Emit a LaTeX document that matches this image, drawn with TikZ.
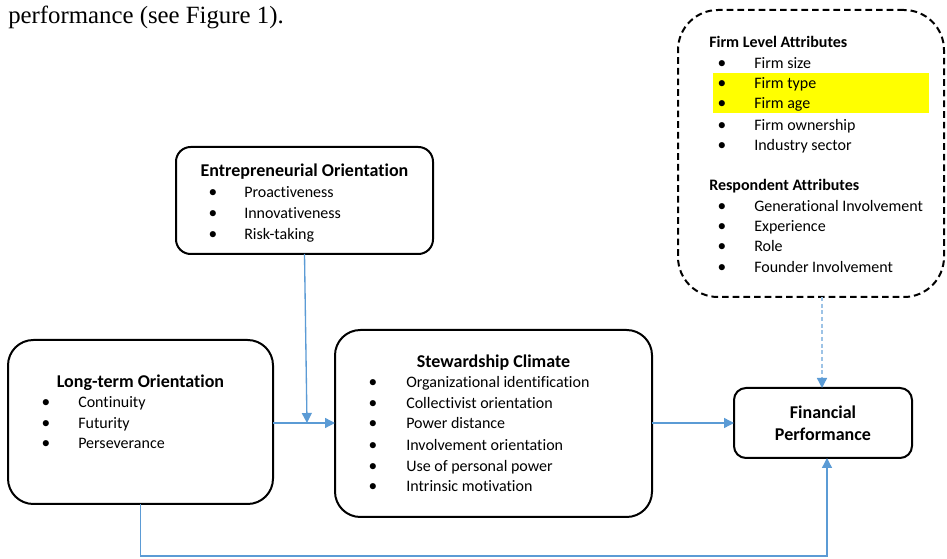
\documentclass[tikz,border=0pt]{standalone}
\usepackage{fontspec}
\setmainfont{Carlito}[RawFeature=-liga]
\newfontfamily\serifface{Liberation Serif}
\usetikzlibrary{arrows.meta}
\definecolor{linkblue}{HTML}{5B9BD5}
\definecolor{lightblue}{HTML}{9DC3E6}
\definecolor{hiyellow}{HTML}{FFFF00}
\tikzset{
  box/.style={draw=black, line width=1.5pt, rectangle, inner sep=0pt, outer sep=0pt},
  ttl/.style={font=\fontsize{13.5}{16}\selectfont\bfseries, inner sep=0pt, anchor=base},
  sttl/.style={font=\fontsize{12}{14}\selectfont\bfseries, inner sep=0pt, anchor=base west},
  itm/.style={font=\fontsize{12}{14}\selectfont, inner sep=0pt, anchor=base west},
  bul/.style={font=\fontsize{13}{14}\selectfont, inner sep=0pt, anchor=base},
  arr/.style={draw=linkblue, line width=1pt, -{Triangle[length=7.5pt,width=7.5pt]}},
  darr/.style={draw=lightblue, line width=1pt, dash pattern=on 3pt off 2pt,
    -{Triangle[length=7.5pt,width=7.5pt,color=linkblue]}}
}
\begin{document}
\begin{tikzpicture}[x=0.75pt,y=-0.75pt]
\useasboundingbox (0,0) rectangle (947,559);
\fill[white] (0,0) rectangle (947,559);

% top text
\node[inner sep=0pt, anchor=base west, font=\serifface\fontsize{18.6}{20}\selectfont] (cap) at (8,24) {performance (see Figure 1).};

% boxes
\node[box, rounded corners=11pt, minimum width=192.75pt, minimum height=80.25pt] (eo) at (304.5,200.5) {};
\node[box, rounded corners=19pt, minimum width=198.75pt, minimum height=123pt] (lto) at (140.5,422) {};
\node[box, rounded corners=19pt, minimum width=237.75pt, minimum height=140.25pt] (sc) at (493.5,423.5) {};
\node[box, rounded corners=9pt, minimum width=133.5pt, minimum height=52.5pt, align=center,
  font=\fontsize{13.5}{16.5}\selectfont\bfseries] (fp) at (823,423) {Financial\\Performance};
\node[box, dash pattern=on 5pt off 3pt, rounded corners=30pt, minimum width=199.5pt, minimum height=215.25pt] (ctrl) at (811,153.5) {};

% highlight
\fill[hiyellow] (713,73) rectangle (929,113);

% EO text
\node[ttl] (eot) at (304.5,177) {Entrepreneurial Orientation};
\node[bul] (eob1) at (213,198) {\textbullet}; \node[itm] (eoi1) at (244,198) {Proactiveness};
\node[bul] (eob2) at (213,219) {\textbullet}; \node[itm] (eoi2) at (244,219) {Innovativeness};
\node[bul] (eob3) at (213,240) {\textbullet}; \node[itm] (eoi3) at (244,240) {Risk-taking};

% LTO text
\node[ttl] (ltot) at (140.5,388) {Long-term Orientation};
\node[bul] (ltob1) at (46,408) {\textbullet}; \node[itm] (ltoi1) at (78,408) {Continuity};
\node[bul] (ltob2) at (46,429) {\textbullet}; \node[itm] (ltoi2) at (78,429) {Futurity};
\node[bul] (ltob3) at (46,449) {\textbullet}; \node[itm] (ltoi3) at (78,449) {Perseverance};

% SC text
\node[ttl] (sct) at (493.5,368) {Stewardship Climate};
\node[bul] (scb1) at (373,388) {\textbullet}; \node[itm] (sci1) at (406,388) {Organizational identification};
\node[bul] (scb2) at (373,409) {\textbullet}; \node[itm] (sci2) at (406,409) {Collectivist orientation};
\node[bul] (scb3) at (373,429) {\textbullet}; \node[itm] (sci3) at (406,429) {Power distance};
\node[bul] (scb4) at (373,451) {\textbullet}; \node[itm] (sci4) at (406,451) {Involvement orientation};
\node[bul] (scb5) at (373,472) {\textbullet}; \node[itm] (sci5) at (406,472) {Use of personal power};
\node[bul] (scb6) at (373,492) {\textbullet}; \node[itm] (sci6) at (406,492) {Intrinsic motivation};

% control box text
\node[sttl] (ct1) at (709,48) {Firm Level Attributes};
\node[bul] (cb1) at (722,69) {\textbullet}; \node[itm] (ci1) at (754,69) {Firm size};
\node[bul] (cb2) at (722,89) {\textbullet}; \node[itm] (ci2) at (754,89) {Firm type};
\node[bul] (cb3) at (722,109) {\textbullet}; \node[itm] (ci3) at (754,109) {Firm age};
\node[bul] (cb4) at (722,131) {\textbullet}; \node[itm] (ci4) at (754,131) {Firm ownership};
\node[bul] (cb5) at (722,151) {\textbullet}; \node[itm] (ci5) at (754,151) {Industry sector};
\node[sttl] (ct2) at (709,191) {Respondent Attributes};
\node[bul] (cb6) at (722,212) {\textbullet}; \node[itm] (ci6) at (754,212) {Generational Involvement};
\node[bul] (cb7) at (722,232) {\textbullet}; \node[itm] (ci7) at (754,232) {Experience};
\node[bul] (cb8) at (722,252) {\textbullet}; \node[itm] (ci8) at (754,252) {Role};
\node[bul] (cb9) at (722,273) {\textbullet}; \node[itm] (ci9) at (754,273) {Founder Involvement};

% connectors
\coordinate (join) at (307,423);
\coordinate (bot) at (827,556);
\draw[arr] (lto.east |- join) -- (sc.west |- join);
\draw[arr] (eo.south) -- (join);
\draw[arr] (sc.east |- join) -- (fp.west |- join);
\draw[darr] (ctrl.south -| 822,0) -- (fp.north -| 822,0);
\draw[arr] (lto.south) |- (bot) -- (bot |- fp.south);
\end{tikzpicture}
\end{document}
